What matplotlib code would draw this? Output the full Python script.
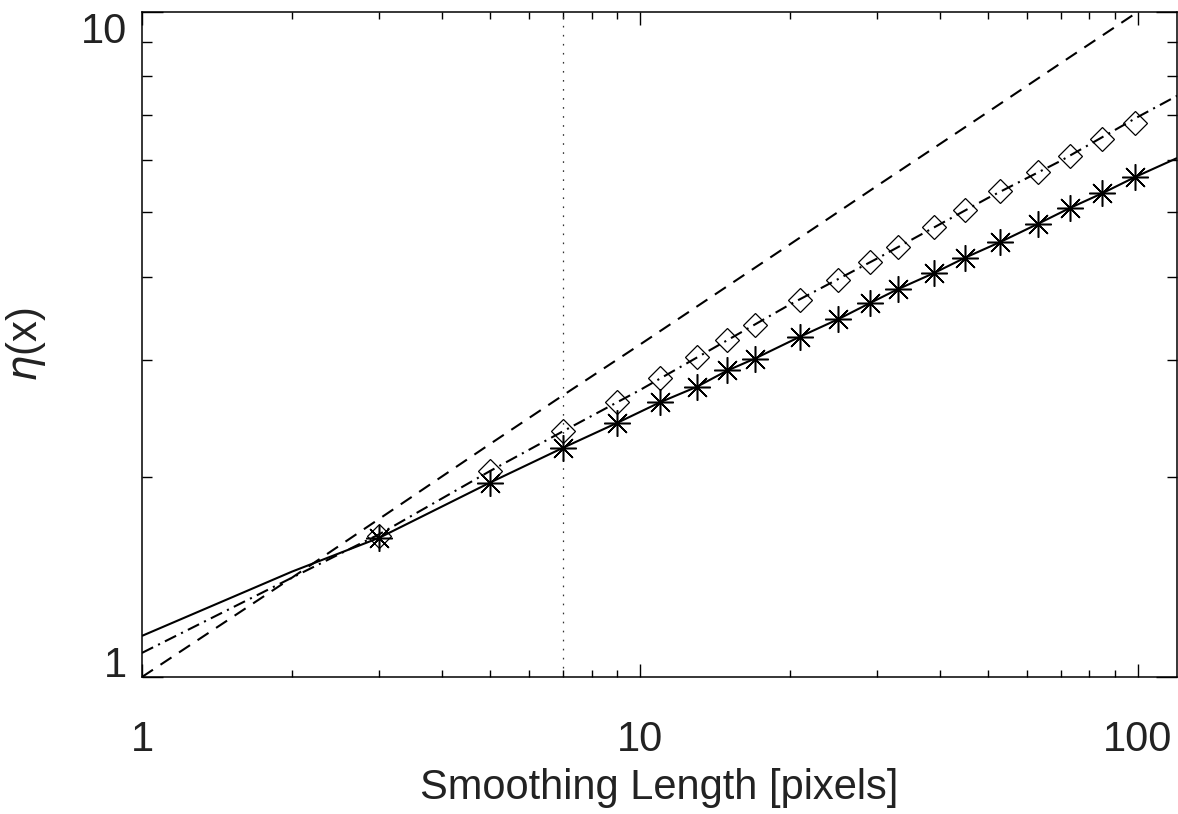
import matplotlib
matplotlib.use("Agg")
import matplotlib.pyplot as plt
from matplotlib.ticker import FixedLocator, NullFormatter

# === data ===
smooth_len = [3, 5, 7, 9, 11, 13, 15, 17, 21, 25, 29, 33, 39, 45, 53, 63, 73, 85, 99]
eta_star = [1.62, 1.96, 2.21, 2.41, 2.59, 2.73, 2.89, 3.01, 3.25, 3.45, 3.65,
            3.83, 4.05, 4.27, 4.51, 4.80, 5.07, 5.34, 5.65]
eta_diamond = [1.63, 2.04, 2.34, 2.59, 2.82, 3.03, 3.21, 3.38, 3.69, 3.95, 4.21,
               4.43, 4.75, 5.04, 5.38, 5.75, 6.07, 6.44, 6.81]

# solid curve runs through the asterisks, plus its ends
solid_lo_x = [1, 2]
solid_lo_y = [1.153, 1.44]
solid_hi_x = [120]
solid_hi_y = [6.03]

dashdot_x = [1, 2, 3, 5, 7, 10, 20, 30, 50, 70, 100, 120]
dashdot_y = [1.087, 1.41, 1.64, 2.04, 2.34, 2.70, 3.63, 4.26, 5.25, 5.97, 6.95, 7.48]

dashed_x = [1, 2, 3, 5, 7, 10, 20, 30, 50, 70, 100, 120]
dashed_y = [1.0, 1.41, 1.73, 2.24, 2.65, 3.16, 4.47, 5.48, 7.07, 8.37, 10.0, 10.95]

cut_x = 7

x_ticks = [1, 10, 100]
x_ticklabels = ["1", "10", "100"]
y_ticks = [1, 10]
y_ticklabels = ["1", "10"]

# === style ===
plt.rcParams['font.family'] = ['Liberation Sans', 'DejaVu Sans']
plt.rcParams['mathtext.fontset'] = 'dejavusans'
plt.rcParams['lines.scale_dashes'] = False
TXT = '#222222'

fig = plt.figure(figsize=(11.78, 8.14), dpi=100)
ax = fig.add_axes([0.1205, 0.1683, 0.8787, 0.817])

solid_x = solid_lo_x + smooth_len + solid_hi_x
solid_y = solid_lo_y + eta_star + solid_hi_y

ax.plot(solid_x, solid_y, color='black', lw=1.5, solid_capstyle='butt', zorder=3)
ax.plot(dashdot_x, dashdot_y, color='black', lw=1.5, dashes=(9, 4, 1.5, 4), zorder=3)
ax.plot(dashed_x, dashed_y, color='black', lw=1.5, dashes=(9.5, 6.5), zorder=3)
ax.axvline(cut_x, color='#333333', lw=0.9, dashes=(1.2, 5.3), zorder=2)

ax.plot(smooth_len, eta_star, linestyle='none', marker=(8, 2, 0), ms=19,
        mec='black', mew=1.1, zorder=4)
ax.plot(smooth_len, eta_diamond, linestyle='none', marker='D', ms=12.5,
        mfc='none', mec='black', mew=0.9, zorder=4)

ax.set_xscale('log')
ax.set_yscale('log')
ax.set_xlim(1, 120)
ax.set_ylim(1, 10)

ax.xaxis.set_major_locator(FixedLocator(x_ticks))
ax.set_xticklabels(x_ticklabels)
ax.yaxis.set_major_locator(FixedLocator(y_ticks))
ax.set_yticklabels(y_ticklabels)
ax.xaxis.set_minor_formatter(NullFormatter())
ax.yaxis.set_minor_formatter(NullFormatter())

ax.tick_params(axis='both', which='both', direction='in', top=True, right=True,
               width=1.0, color='black', labelcolor=TXT, labelsize=30)
ax.tick_params(axis='x', which='major', length=9.4, pad=31)
ax.tick_params(axis='x', which='minor', length=5)
ax.tick_params(axis='y', which='major', length=15, pad=11)
ax.tick_params(axis='y', which='minor', length=7.2)

for sp in ax.spines.values():
    sp.set_linewidth(1.1)

# IDL keeps the end labels of the y axis inside the frame
ytk = ax.yaxis.get_major_ticks()
ytk[0].label1.set_va('baseline')
ytk[1].label1.set_va('top')

ax.set_xlabel('Smoothing Length [pixels]', fontsize=30, color=TXT)
ax.xaxis.set_label_coords(0.5, -0.137)
ax.set_ylabel(r'$\eta$(x)', fontsize=30, color=TXT)
ax.yaxis.set_label_coords(-0.091, 0.5)

fig.savefig('out.png', dpi=100)
